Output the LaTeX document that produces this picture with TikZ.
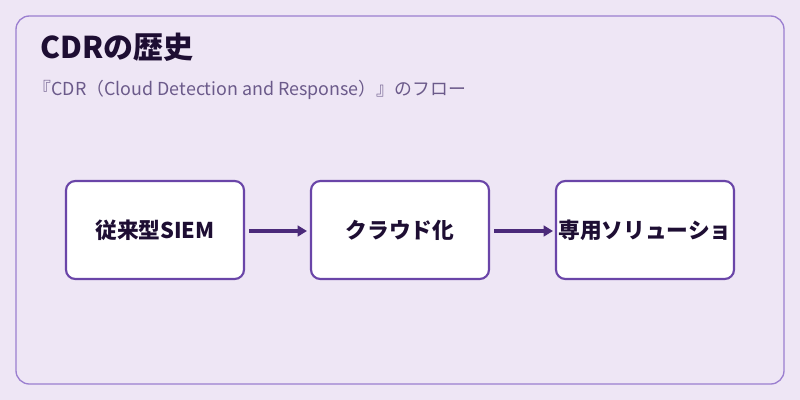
\documentclass[tikz,border=0pt]{standalone}
\usepackage{fontspec}
\setmainfont{Noto Sans CJK JP}
\usetikzlibrary{arrows.meta}
\definecolor{bg}{HTML}{EEE6F5}
\definecolor{frame}{HTML}{9B7FD0}
\definecolor{boxline}{HTML}{6A45A8}
\definecolor{arr}{HTML}{4B2A7A}
\definecolor{titlec}{HTML}{1E0E33}
\definecolor{subc}{HTML}{6B5A8A}
\tikzset{
  stepbox/.style={draw=boxline, line width=1.6pt, fill=white, rounded corners=7pt, minimum width=133.5pt, minimum height=73.5pt, inner sep=0pt, font=\fontsize{16.3}{19}\selectfont\bfseries, text=titlec},
  flow/.style={draw=arr, line width=2.3pt, -{Triangle[length=7pt,width=8pt]}}
}
\begin{document}
\begin{tikzpicture}[x=0.75pt,y=-0.75pt]
\useasboundingbox (0,0) rectangle (800,400);
\fill[bg] (0,0) rectangle (800,400);
\draw[frame, line width=1pt, rounded corners=10pt, fill=bg] (16,16) rectangle (784,384);
\node[anchor=west, font=\fontsize{22.5}{26}\selectfont\bfseries, text=titlec] (title) at (36,47) {CDRの歴史};
\node[anchor=west, font=\fontsize{13.4}{16}\selectfont, text=subc] (sub) at (29,90) {『CDR（Cloud Detection and Response）』のフロー};
\node[stepbox] (a) at (155,230) {従来型SIEM};
\node[stepbox] (b) at (400,230) {クラウド化};
\node[stepbox] (c) at (645,230) {専用ソリューショ};
\coordinate (a1) at (249,231); \coordinate (b0) at (307,231);
\coordinate (b1) at (494,231); \coordinate (c0) at (553,231);
\draw[flow] (a1) -- (b0);
\draw[flow] (b1) -- (c0);
\end{tikzpicture}
\end{document}
